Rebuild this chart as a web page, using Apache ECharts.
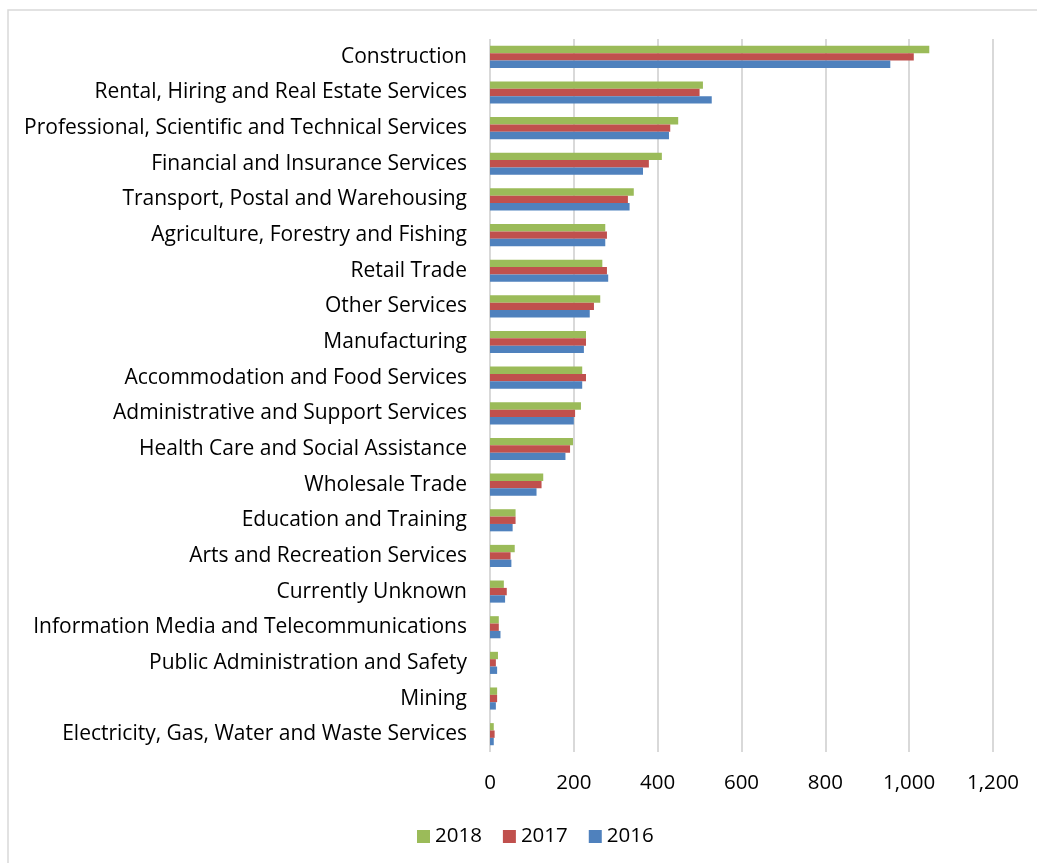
<!DOCTYPE html>
<html>
<head>
<meta charset="utf-8">
<script src="https://cdn.jsdelivr.net/npm/echarts@6/dist/echarts.min.js"></script>
<style>
html,body{margin:0;padding:0;background:#fff;}
#chart{width:1037px;height:863px;}
</style>
</head>
<body>
<div id="chart"></div>
<script>
var categories = [
  "Construction",
  "Rental, Hiring and Real Estate Services",
  "Professional, Scientific and Technical Services",
  "Financial and Insurance Services",
  "Transport, Postal and Warehousing",
  "Agriculture, Forestry and Fishing",
  "Retail Trade",
  "Other Services",
  "Manufacturing",
  "Accommodation and Food Services",
  "Administrative and Support Services",
  "Health Care and Social Assistance",
  "Wholesale Trade",
  "Education and Training",
  "Arts and Recreation Services",
  "Currently Unknown",
  "Information Media and Telecommunications",
  "Public Administration and Safety",
  "Mining",
  "Electricity, Gas, Water and Waste Services"
];
var values2018 = [1048, 508, 449, 410, 343, 275, 268, 263, 229, 220, 217, 198, 127, 61, 59, 33, 21, 19, 17, 9];
var values2017 = [1011, 500, 430, 379, 329, 279, 279, 248, 229, 229, 203, 191, 123, 61, 49, 40, 21, 14, 17, 11];
var values2016 = [955, 529, 427, 365, 333, 275, 282, 238, 224, 220, 200, 180, 111, 54, 51, 36, 25, 17, 14, 9];
var xTicks = [0, 200, 400, 600, 800, 1000, 1200];

var FONT = "Open Sans";
var chart = echarts.init(document.getElementById('chart'), null, {renderer: 'canvas'});
chart.setOption({
  animation: false,
  backgroundColor: '#ffffff',
  textStyle: {fontFamily: FONT},
  graphic: [{
    type: 'rect',
    shape: {x: 8, y: 10, width: 1040, height: 870},
    style: {fill: 'none', stroke: '#d9d9d9', lineWidth: 1.5},
    silent: true
  }],
  grid: {left: 490, right: 44, top: 39, bottom: 111, containLabel: false},
  legend: {
    data: ['2018', '2017', '2016'],
    bottom: 11,
    left: 412,
    itemWidth: 13,
    itemHeight: 13,
    itemGap: 21,
    icon: 'rect',
    textStyle: {fontSize: 20.5, color: '#000', fontFamily: FONT}
  },
  xAxis: {
    type: 'value',
    min: xTicks[0],
    max: xTicks[xTicks.length - 1],
    interval: 200,
    axisLine: {show: false},
    axisTick: {show: false},
    splitLine: {lineStyle: {color: '#d9d9d9', width: 2}},
    axisLabel: {
      fontSize: 20.5, color: '#000', margin: 21, fontFamily: FONT,
      formatter: function (v) { return v.toLocaleString('en-US'); }
    }
  },
  yAxis: {
    type: 'category',
    data: categories,
    inverse: true,
    axisLine: {show: false},
    axisTick: {show: false},
    axisLabel: {fontSize: 21, color: '#000', margin: 23, fontFamily: FONT, padding: [4, 0, 0, 0]}
  },
  series: [
    {name: '2018', type: 'bar', data: values2018, itemStyle: {color: '#9bbb59'}, barGap: '0%', barCategoryGap: '38%'},
    {name: '2017', type: 'bar', data: values2017, itemStyle: {color: '#c0504d'}, barGap: '0%', barCategoryGap: '38%'},
    {name: '2016', type: 'bar', data: values2016, itemStyle: {color: '#4f81bd'}, barGap: '0%', barCategoryGap: '38%'}
  ]
});
</script>
</body>
</html>
